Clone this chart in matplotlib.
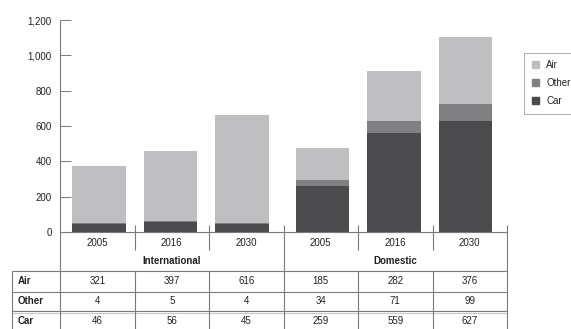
import matplotlib
matplotlib.use("Agg")
import matplotlib.pyplot as plt
import numpy as np
from matplotlib.patches import Patch

plt.rcParams['font.family'] = ['Liberation Sans', 'DejaVu Sans']

# passenger volumes by segment and year
groups = ['International', 'Domestic']
years = ['2005', '2016', '2030', '2005', '2016', '2030']
air = [321, 397, 616, 185, 282, 376]
other = [4, 5, 4, 34, 71, 99]
car = [46, 56, 45, 259, 559, 627]
yticks = [0, 200, 400, 600, 800, 1000, 1200]

c_air = '#bfbfc1'
c_other = '#808082'
c_car = '#4b4b4d'
c_line = '#7a7a7a'
c_text = '#222222'

W, H = 571, 329
fig = plt.figure(figsize=(W / 100, H / 100), dpi=100)

# pixel layout of the plot/table grid
x0, col_w = 60, 74.5
y_top, y_base = 20, 232
ncol = len(years)
x_end = x0 + col_w * ncol

ax = fig.add_axes([x0 / W, 1 - y_base / H, col_w * ncol / W, (y_base - y_top) / H])
# bars sit at a slightly tighter pitch than the table columns
x = np.array([g * 3.0 + 0.525 + i * 0.96 for g in range(2) for i in range(3)])
air = np.array(air); other = np.array(other); car = np.array(car)
bw = 0.72
ax.bar(x, car, width=bw, color=c_car, label='Car')
ax.bar(x, other, width=bw, bottom=car, color=c_other, label='Other')
ax.bar(x, air, width=bw, bottom=car + other, color=c_air, label='Air')
ax.set_xlim(0, ncol)
ax.set_ylim(0, 1200)
ax.set_yticks(yticks)
ax.set_yticklabels([f'{v:,}' for v in yticks])
ax.set_xticks([])
ax.tick_params(axis='y', direction='in', length=8, width=0.7, color=c_line,
               pad=6, labelsize=7, labelcolor=c_text)
for s in ax.spines.values():
    s.set_visible(False)
ax.patch.set_visible(False)

# table drawn on a full-figure overlay in pixel coordinates
tab = fig.add_axes([0, 0, 1, 1])
tab.set_xlim(0, W)
tab.set_ylim(H, 0)
tab.axis('off')

lw = 0.8
def hline(y, xa, xb, color=c_line):
    tab.plot([xa, xb], [y, y], color=color, lw=lw, solid_capstyle='butt')

def vline(xx, ya, yb):
    tab.plot([xx, xx], [ya, yb], color=c_line, lw=lw, solid_capstyle='butt')

x_left = 12
row_y = [271, 291.5, 310.5]
hline(y_base, x0, x_end)
for ry in row_y:
    hline(ry, x_left, x_end)
hline(312.5, x_left, x_end, color='#c8c8c8')
vline(x0, y_top, H)
vline(x_left, row_y[0], H)
for i in range(1, ncol + 1):
    xx = x0 + col_w * i
    if i % 3 == 0:
        vline(xx, 225, H)
    else:
        vline(xx, 225, 250)
        vline(xx, row_y[0], H)

for i, yr in enumerate(years):
    tab.text(x0 + col_w * (i + 0.5), 243, yr, ha='center', va='center',
             fontsize=7, color=c_text)
for g, name in enumerate(groups):
    tab.text(x0 + col_w * (3 * g + 1.5), 260.5, name, ha='center', va='center',
             fontsize=7, fontweight='bold', color=c_text)

rows = [('Air', air), ('Other', other), ('Car', car)]
row_c = [281.5, 301.5, 321]
for (label, vals), ry in zip(rows, row_c):
    tab.text(18, ry, label, ha='left', va='center', fontsize=7,
             fontweight='bold', color=c_text)
    for i, v in enumerate(vals):
        tab.text(x0 + col_w * (i + 0.5), ry, str(v), ha='center', va='center',
                 fontsize=7, color=c_text)

handles = [Patch(color=c_air, label='Air'), Patch(color=c_other, label='Other'),
           Patch(color=c_car, label='Car')]
leg = fig.legend(handles=handles, loc='upper left',
                 bbox_to_anchor=(524 / W, 1 - 52.5 / H), borderaxespad=0,
                 frameon=True, fancybox=False, fontsize=7, handlelength=0.7,
                 handleheight=0.7, handletextpad=0.8, labelspacing=0.8,
                 borderpad=0.8)
leg.get_frame().set_edgecolor('#999999')
leg.get_frame().set_linewidth(0.7)
for t in leg.get_texts():
    t.set_color(c_text)

fig.savefig('out.png', dpi=100, facecolor='white')
